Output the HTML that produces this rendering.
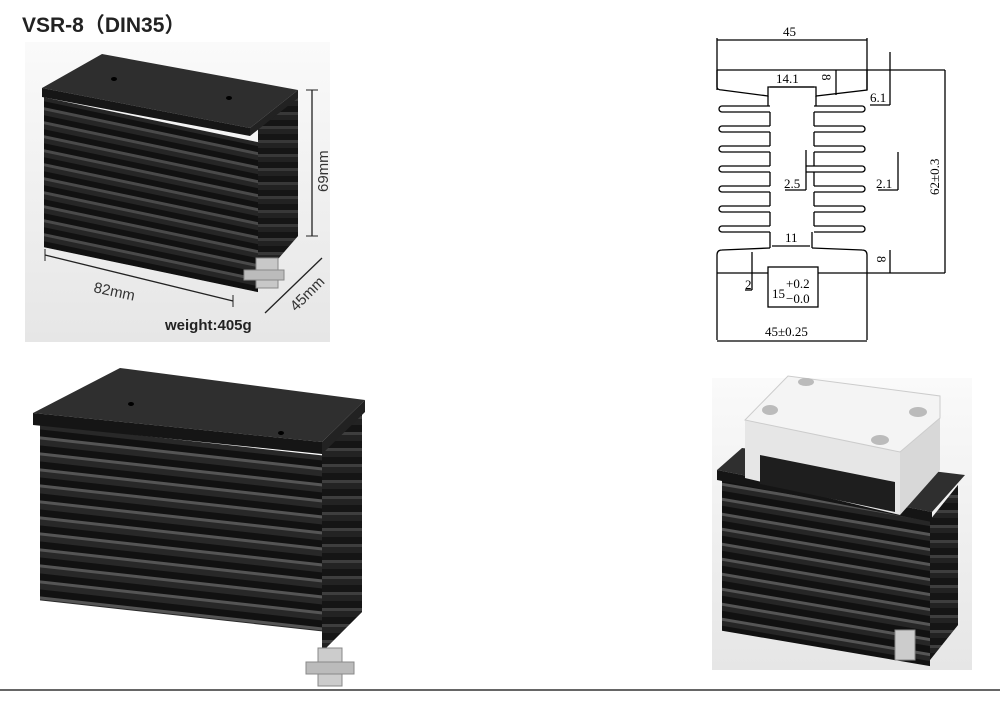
<!DOCTYPE html>
<html><head><meta charset="utf-8"><style>
html,body{margin:0;padding:0;background:#fff;width:1000px;height:702px;overflow:hidden}
svg{display:block}
text{font-family:"Liberation Sans",sans-serif}
.s{font-family:"Liberation Serif",serif;font-size:13px;fill:#000}
</style></head><body>
<svg width="1000" height="702" viewBox="0 0 1000 702">
<defs>
<linearGradient id="bg1" x1="0" y1="0" x2="0" y2="1"><stop offset="0" stop-color="#fafafa"/><stop offset="1" stop-color="#e6e6e6"/></linearGradient>
<pattern id="fin1" width="10" height="14" patternUnits="userSpaceOnUse"><rect width="10" height="14" fill="#111"/><rect y="0" width="10" height="3" fill="#4a4a4a"/><rect y="3" width="10" height="5" fill="#262626"/></pattern>
<pattern id="fin2" width="10" height="16" patternUnits="userSpaceOnUse"><rect width="10" height="16" fill="#111"/><rect y="0" width="10" height="3" fill="#555"/><rect y="3" width="10" height="6" fill="#282828"/></pattern>
<pattern id="fin3" width="10" height="15" patternUnits="userSpaceOnUse"><rect width="10" height="15" fill="#111"/><rect y="0" width="10" height="3" fill="#555"/><rect y="3" width="10" height="5" fill="#262626"/></pattern>
</defs>
<text x="22" y="32" font-size="21" font-weight="bold" fill="#222" style="font-family:'Liberation Sans','Noto Sans CJK SC',sans-serif">VSR-8（DIN35）</text>

<!-- top-left photo -->
<rect x="25" y="42" width="305" height="300" fill="url(#bg1)"/>
<g>
<polygon points="258,128 298,92 298,236 258,282" fill="#1c1c1c"/>
<g transform="matrix(1,0.21,0,1,0,0)"><rect x="44" y="88" width="214" height="150" fill="url(#fin1)"/></g>
<polygon points="258,128 298,92 298,236 258,282" fill="url(#fin1)" opacity="0.6"/>
<polygon points="42,88 102,54 298,90 250,128" fill="#2e2e2e"/>
<polygon points="42,88 250,128 250,136 42,97" fill="#161616"/>
<polygon points="250,128 298,90 298,98 250,136" fill="#222"/>
<ellipse cx="114" cy="79" rx="3" ry="2" fill="#000"/><ellipse cx="229" cy="98" rx="3" ry="2" fill="#000"/>
<rect x="256" y="258" width="22" height="30" fill="#c8c8c8" stroke="#888"/>
<rect x="244" y="270" width="40" height="10" fill="#bbb" stroke="#888"/>
</g>
<line x1="312" y1="90" x2="312" y2="236" stroke="#222" stroke-width="1.3"/>
<line x1="306" y1="90" x2="318" y2="90" stroke="#222"/><line x1="306" y1="236" x2="318" y2="236" stroke="#222"/>
<text transform="translate(328,192) rotate(-90)" font-size="15" fill="#333">69mm</text>
<line x1="45" y1="255" x2="233" y2="301" stroke="#222" stroke-width="1.3"/>
<line x1="45" y1="249" x2="45" y2="261" stroke="#222"/><line x1="233" y1="295" x2="233" y2="307" stroke="#222"/>
<text transform="translate(93,292) rotate(12)" font-size="15" fill="#333">82mm</text>
<line x1="265" y1="313" x2="322" y2="258" stroke="#222" stroke-width="1.3"/>
<text transform="translate(296,312) rotate(-45)" font-size="15" fill="#333">45mm</text>
<text x="165" y="330" font-size="15" font-weight="bold" fill="#222">weight:405g</text>

<!-- technical drawing -->
<g stroke="#000" stroke-width="1.3" fill="none">
<line x1="717" y1="40" x2="867" y2="40"/><line x1="717" y1="38" x2="717" y2="90"/><line x1="867" y1="38" x2="867" y2="90"/>
<line x1="717" y1="70" x2="945" y2="70"/>
<path d="M717,70 V87 Q717,90 722,90 L768,96 V87 H816 V96 L867,90 V70"/>
<line x1="770" y1="87" x2="814" y2="87"/>
<path d="M768,96 V106 M816,96 V106"/>
<path d="M770,106 H722 a3,3 0 0 0 0,6 H770 M770,126 H722 a3,3 0 0 0 0,6 H770 M770,146 H722 a3,3 0 0 0 0,6 H770 M770,166 H722 a3,3 0 0 0 0,6 H770 M770,186 H722 a3,3 0 0 0 0,6 H770 M770,206 H722 a3,3 0 0 0 0,6 H770 M770,226 H722 a3,3 0 0 0 0,6 H770"/>
<path d="M770,112 V126 M770,132 V146 M770,152 V166 M770,172 V186 M770,192 V206 M770,212 V226 M770,232 V248"/>
<path d="M814,106 H862 a3,3 0 0 1 0,6 H814 M814,126 H862 a3,3 0 0 1 0,6 H814 M814,146 H862 a3,3 0 0 1 0,6 H814 M806,166 H862 a3,3 0 0 1 0,6 H806 M814,186 H862 a3,3 0 0 1 0,6 H814 M814,206 H862 a3,3 0 0 1 0,6 H814 M814,226 H862 a3,3 0 0 1 0,6 H814"/>
<path d="M814,112 V126 M814,132 V146 M814,152 V166 M814,172 V186 M814,192 V206 M814,212 V226 M812,232 V248"/>
<path d="M770,248 L722,250 Q717,250 717,255 V340 M812,248 L862,250 Q867,250 867,255 V340"/>
<line x1="772" y1="246" x2="810" y2="246"/>
<line x1="717" y1="273" x2="768" y2="273"/><line x1="818" y1="273" x2="945" y2="273"/>
<rect x="768" y="267" width="50" height="40"/>
<line x1="717" y1="341" x2="867" y2="341"/>
<line x1="945" y1="70" x2="945" y2="273"/>
<line x1="890" y1="52" x2="890" y2="105"/><line x1="870" y1="105" x2="890" y2="105"/>
<line x1="836" y1="70" x2="836" y2="95"/>
<line x1="898" y1="152" x2="898" y2="190"/><line x1="878" y1="190" x2="898" y2="190"/>
<line x1="806" y1="150" x2="806" y2="190"/><line x1="785" y1="190" x2="806" y2="190"/>
<line x1="890" y1="250" x2="890" y2="273"/>
<line x1="752" y1="252" x2="752" y2="290"/><line x1="745" y1="290" x2="752" y2="290"/>
</g>
<text class="s" x="783" y="36">45</text>
<text class="s" x="776" y="83">14.1</text>
<text class="s" transform="translate(822,74) rotate(90)">8</text>
<text class="s" x="870" y="102">6.1</text>
<text class="s" x="784" y="188">2.5</text>
<text class="s" x="876" y="188">2.1</text>
<text class="s" transform="translate(939,195) rotate(-90)">62±0.3</text>
<text class="s" x="785" y="242">11</text>
<text class="s" transform="translate(877,256) rotate(90)">8</text>
<text class="s" x="745" y="289">2</text>
<text class="s" x="772" y="298">15</text><text class="s" x="786" y="288">+0.2</text><text class="s" x="786" y="303">−0.0</text>
<text class="s" x="765" y="336">45±0.25</text>

<!-- bottom-left heatsink -->
<polygon points="322,445 362,410 362,612 322,652" fill="#1c1c1c"/>
<g transform="matrix(1,0.11,0,1,0,0)"><rect x="40" y="420" width="282" height="176" fill="url(#fin2)"/></g>
<polygon points="322,445 362,410 362,612 322,652" fill="url(#fin2)" opacity="0.6"/>
<polygon points="33,413 120,368 365,400 322,442" fill="#2f2f2f"/>
<polygon points="33,413 322,442 322,454 33,425" fill="#151515"/>
<polygon points="322,442 365,400 365,412 322,454" fill="#222"/>
<ellipse cx="131" cy="404" rx="3" ry="2" fill="#000"/><ellipse cx="281" cy="433" rx="3" ry="2" fill="#000"/>
<rect x="318" y="648" width="24" height="38" fill="#ccc" stroke="#888"/>
<rect x="306" y="662" width="48" height="12" fill="#bbb" stroke="#888"/>

<!-- bottom-right photo -->
<rect x="712" y="378" width="260" height="292" fill="url(#bg1)"/>
<polygon points="930,520 958,485 958,625 930,660" fill="#1c1c1c"/>
<g transform="matrix(1,0.17,0,1,0,0)"><rect x="722" y="358" width="208" height="150" fill="url(#fin3)"/></g>
<polygon points="930,520 958,485 958,625 930,660" fill="url(#fin3)" opacity="0.6"/>
<polygon points="717,470 742,448 965,475 932,512" fill="#2f2f2f"/>
<polygon points="717,470 932,512 932,522 717,480" fill="#151515"/>
<polygon points="745,420 900,452 900,515 745,478" fill="#e6e6e6"/>
<polygon points="760,455 895,482 895,512 760,484" fill="#1e1e1e"/>
<polygon points="900,452 940,418 940,470 900,515" fill="#d8d8d8"/>
<polygon points="745,420 788,376 940,396 940,418 900,452" fill="#f4f4f4" stroke="#ccc"/>
<ellipse cx="770" cy="410" rx="8" ry="5" fill="#bbb"/><ellipse cx="806" cy="382" rx="8" ry="4" fill="#bbb"/>
<ellipse cx="918" cy="412" rx="9" ry="5" fill="#bbb"/><ellipse cx="880" cy="440" rx="9" ry="5" fill="#bbb"/>
<rect x="895" y="630" width="20" height="30" fill="#ccc" stroke="#888"/>

<line x1="0" y1="690" x2="1000" y2="690" stroke="#333" stroke-width="1.5"/>
</svg>
</body></html>
